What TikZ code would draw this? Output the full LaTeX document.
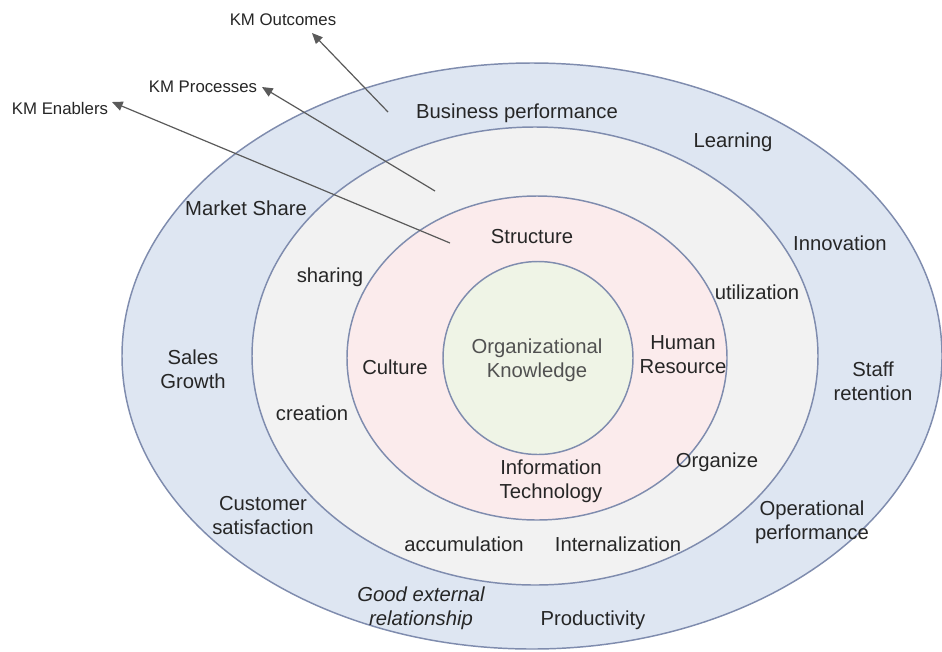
\documentclass[tikz,border=0pt]{standalone}
\usepackage{fontspec}
\setmainfont{Liberation Sans}
\usetikzlibrary{arrows.meta,shapes.geometric}
\definecolor{outerfill}{HTML}{DEE6F2}
\definecolor{procfill}{HTML}{F2F2F2}
\definecolor{enabfill}{HTML}{FBEBEC}
\definecolor{corefill}{HTML}{EFF4E6}
\definecolor{ringline}{HTML}{7F8CAE}
\definecolor{txt}{HTML}{262626}
\definecolor{arrowgray}{HTML}{5A5A5A}
\tikzset{
  ring/.style={ellipse, draw=ringline, line width=1.1pt, inner sep=0pt, outer sep=0pt},
  lbl/.style={text=txt, font=\fontsize{15.2}{18}\selectfont, align=center, inner sep=0pt},
  kmlbl/.style={text=txt, font=\fontsize{12.6}{15}\selectfont, inner sep=0pt},
  kmarrow/.style={draw=arrowgray, line width=0.9pt, -{Triangle[length=8pt,width=7pt]}}
}
\begin{document}
\begin{tikzpicture}[x=0.75pt,y=-0.75pt]
\useasboundingbox (0,0) rectangle (942,651);
\fill[white] (0,0) rectangle (942,651);
\node[ring, fill=outerfill, minimum width=615pt, minimum height=439.5pt] (outer) at (532,356) {};
\node[ring, fill=procfill, minimum width=424.5pt, minimum height=343.5pt] (proc) at (535,356) {};
\node[ring, fill=enabfill, minimum width=285pt, minimum height=243pt] (enab) at (537,358) {};
\node[ring, fill=corefill, minimum width=142.5pt, minimum height=144.75pt] (core) at (538,358) {};

% KM labels
\node[kmlbl] (kmout) at (283,20) {KM Outcomes};
\node[kmlbl] (kmproc) at (203,87) {KM Processes};
\node[kmlbl] (kmenab) at (60,108) {KM Enablers};
\coordinate (outS) at (388,112);
\coordinate (outT) at (312,33);
\coordinate (procS) at (435,191);
\coordinate (procT) at (262,87);
\coordinate (enabS) at (450,243);
\coordinate (enabT) at (112,102);
\draw[kmarrow] (outS) -- (outT);
\draw[kmarrow] (procS) -- (procT);
\draw[kmarrow] (enabS) -- (enabT);

% outcomes ring
\node[lbl] (bp) at (517,113) {Business performance};
\node[lbl] (learn) at (733,142) {Learning};
\node[lbl] (ms) at (246,208) {Market Share};
\node[lbl] (innov) at (840,243) {Innovation};
\node[lbl] (sales) at (193,369) {Sales\\Growth};
\node[lbl] (staff) at (873,381) {Staff\\retention};
\node[lbl] (cust) at (263,516) {Customer\\satisfaction};
\node[lbl] (oper) at (812,522) {Operational\\performance};
\node[lbl, font=\fontsize{15.2}{18}\selectfont\itshape] (good) at (421,608) {Good external\\relationship};
\node[lbl] (prod) at (593,620) {Productivity};

% processes ring
\node[lbl] (share) at (330,277) {sharing};
\node[lbl] (util) at (757,292) {utilization};
\node[lbl] (creat) at (312,413) {creation};
\node[lbl] (org) at (717,462) {Organize};
\node[lbl] (accum) at (464,544) {accumulation};
\node[lbl] (intern) at (618,544) {Internalization};

% enablers ring
\node[lbl] (struct) at (532,237) {Structure};
\node[lbl] (cult) at (395,367) {Culture};
\node[lbl] (hr) at (683,355) {Human\\Resource};
\node[lbl] (it) at (551,481) {Information\\Technology};

% core
\node[lbl, text=txt!80] (ok) at (537,360) {Organizational\\Knowledge};
\end{tikzpicture}
\end{document}
